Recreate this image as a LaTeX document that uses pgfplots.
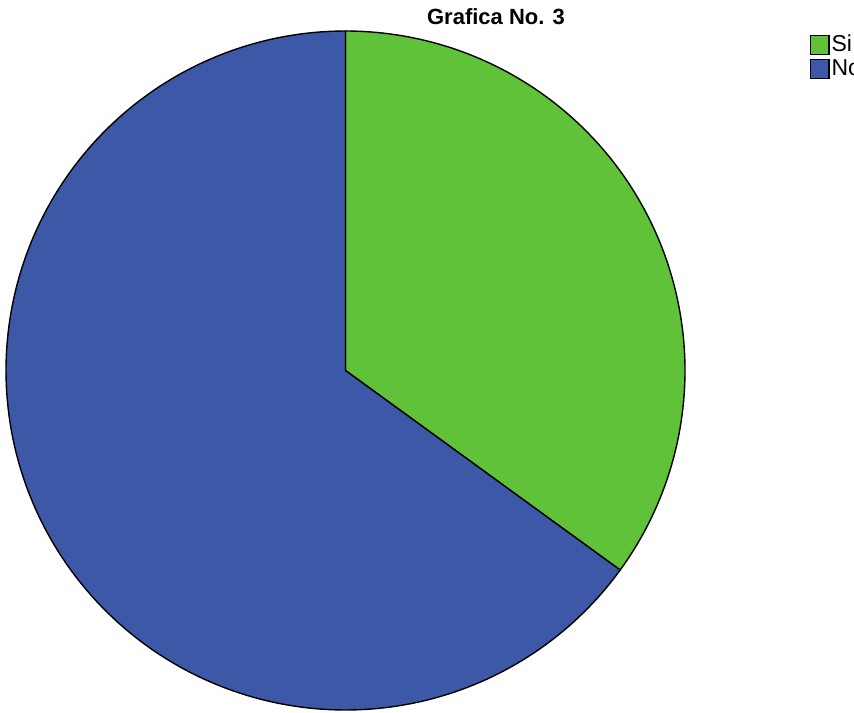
\documentclass[border=0pt]{standalone}
\usepackage{pgfplots}
\pgfplotsset{compat=1.18}
\usepackage{fontspec}
\setmainfont{Liberation Sans}
\definecolor{sigreen}{RGB}{95,194,56}
\definecolor{noblue}{RGB}{62,88,168}
\def\valSi{35}
\def\valNo{65}
\begin{document}
\begin{tikzpicture}
\begin{axis}[
  scale only axis, width=427pt, height=356pt,
  xmin=0, xmax=854, ymin=0, ymax=712,
  hide axis, clip=false,
  legend style={at={(axis cs:810,678)}, anchor=north west, draw=none, fill=none,
    font=\fontsize{11.5}{13}\selectfont, inner sep=0pt, outer sep=0pt,
    row sep=1.5pt, cells={anchor=west}, nodes={inner xsep=1pt, inner ysep=0.5pt}},
  legend image code/.code={\draw[line width=0.6pt, #1, draw=black] (0pt,-4.7pt) rectangle (9.2pt,4.7pt);},
]
\addplot[fill=sigreen, draw=black, line width=0.7pt, domain=90:{90-3.6*\valSi}, samples=120, variable=\t]
  ({345.5+339.5*cos(t)}, {341.5+339.5*sin(t)}) -- (axis cs:345.5,341.5) -- cycle;
\addlegendentry{Si}
\addplot[fill=noblue, draw=black, line width=0.7pt, domain={90-3.6*\valSi}:{90-3.6*(\valSi+\valNo)}, samples=200, variable=\t]
  ({345.5+339.5*cos(t)}, {341.5+339.5*sin(t)}) -- (axis cs:345.5,341.5) -- cycle;
\addlegendentry{No}
\node[font=\bfseries\fontsize{11}{13}\selectfont, anchor=center] at (axis cs:496,695) {Grafica No. 3};
\end{axis}
\pgfresetboundingbox
\path[use as bounding box] (current axis.south west) rectangle (current axis.north east);
\end{tikzpicture}
\end{document}
